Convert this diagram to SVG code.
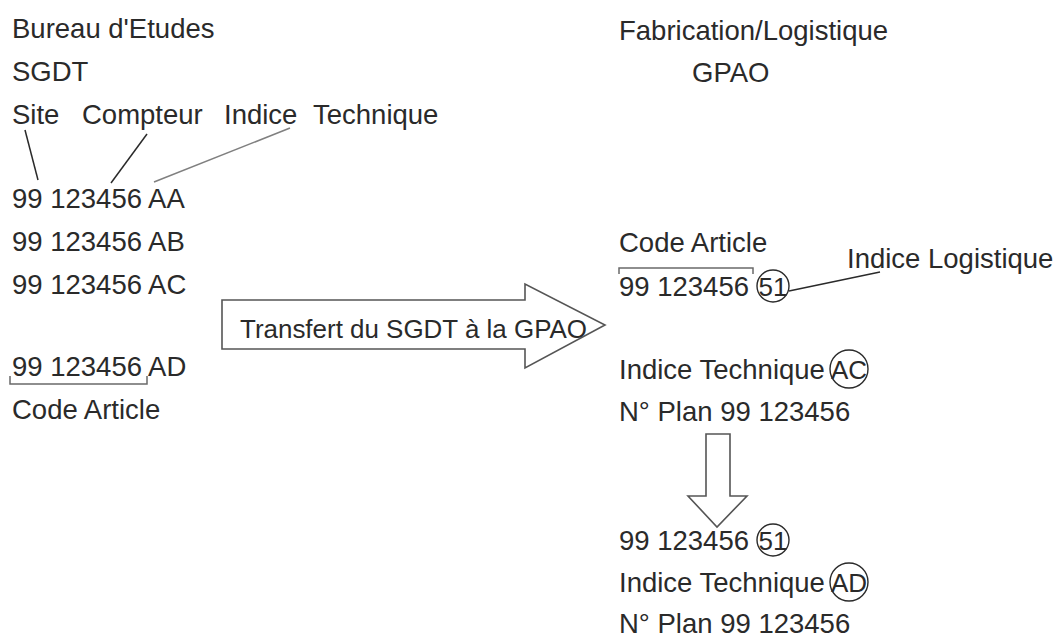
<svg xmlns="http://www.w3.org/2000/svg" width="1059" height="638" viewBox="0 0 1059 638">
<style>
text{font-family:"Liberation Sans",Arial,sans-serif;font-size:27.5px;fill:#2a2a2a}
.small{font-size:26px}
.ring{fill:none;stroke:#2a2a2a;stroke-width:1.4}
.lead{fill:none;stroke:#2a2a2a;stroke-width:1.5}
.leadg{fill:none;stroke:#808080;stroke-width:1.6}
.brk{fill:none;stroke:#6a6a6a;stroke-width:1.5}
.arr{fill:#fff;stroke:#555;stroke-width:1.6;stroke-linejoin:miter}
</style>
<rect width="1059" height="638" fill="#fff"/>
<g id="left-header">
<text x="12" y="38">Bureau d'Etudes</text>
<text x="12" y="81">SGDT</text>
<text x="12" y="124">Site</text>
<text x="82" y="124">Compteur</text>
<text x="224" y="124">Indice</text>
<text x="313" y="124">Technique</text>
</g>
<g id="left-codes">
<text x="12" y="208">99 123456 AA</text>
<text x="12" y="251">99 123456 AB</text>
<text x="12" y="294">99 123456 AC</text>
<text x="12" y="376">99 123456 AD</text>
<path class="brk" d="M10,376 V384 H147 V376"/>
<text x="12" y="419">Code Article</text>
</g>
<g id="transfer-arrow">
<polygon class="arr" points="222,300 525,300 525,284 605,325 525,368 525,349 222,349"/>
<text class="small" x="240" y="338" textLength="347" lengthAdjust="spacingAndGlyphs">Transfert du SGDT à la GPAO</text>
</g>
<g id="right-header">
<text x="619" y="40">Fabrication/Logistique</text>
<text x="692" y="82">GPAO</text>
</g>
<g id="right-article">
<text x="619" y="252">Code Article</text>
<path class="brk" d="M619,274 V268 H753 V274"/>
<text x="619" y="296">99 123456</text>
<circle class="ring" cx="773" cy="286" r="16"/>
<text class="small" x="773" y="296" text-anchor="middle">51</text>
<text x="847" y="268">Indice Logistique</text>
<text x="619" y="379">Indice Technique</text>
<circle class="ring" cx="849" cy="369" r="19"/>
<text class="small" x="849" y="379" text-anchor="middle">AC</text>
<text x="619" y="421">N° Plan 99 123456</text>
</g>
<g id="down-arrow">
<polygon class="arr" points="706,434 730,434 730,496 747,496 717,527 688,496 706,496"/>
</g>
<g id="right-result">
<text x="619" y="550">99 123456</text>
<circle class="ring" cx="773" cy="540" r="16"/>
<text class="small" x="773" y="550" text-anchor="middle">51</text>
<text x="619" y="592">Indice Technique</text>
<circle class="ring" cx="849" cy="582" r="19"/>
<text class="small" x="849" y="592" text-anchor="middle">AD</text>
<text x="619" y="633">N° Plan 99 123456</text>
</g>
<g id="connectors">
<line class="lead" x1="25" y1="130" x2="38" y2="180"/>
<line class="lead" x1="147" y1="134" x2="111" y2="183"/>
<line class="leadg" x1="290" y1="128" x2="154" y2="182"/>
<line class="lead" x1="789" y1="291" x2="880" y2="272"/>
</g>
</svg>
